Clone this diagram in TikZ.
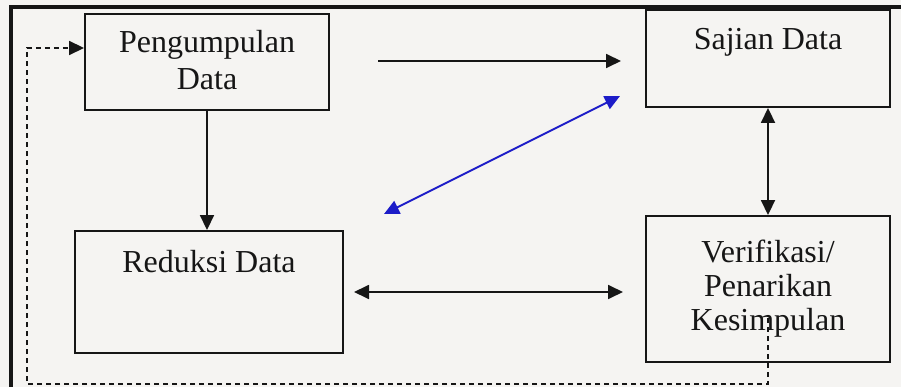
\documentclass[tikz,border=0pt]{standalone}
\usepackage{fontspec}
\setmainfont{Liberation Serif}
\usetikzlibrary{arrows.meta}
\definecolor{paper}{HTML}{F5F4F2}
\definecolor{ink}{HTML}{161616}
\definecolor{linkblue}{HTML}{1C1CC8}
\tikzset{
  box/.style={draw=ink, line width=1.9pt, rectangle, inner sep=0pt},
  lbl/.style={anchor=base, inner sep=0pt, font=\fontsize{32}{37}\selectfont, text=ink},
  tip/.style={-{Triangle[length=15pt,width=14pt]}},
  twotip/.style={{Triangle[length=15pt,width=14pt]}-{Triangle[length=15pt,width=14pt]}},
  conn/.style={draw=ink, line width=1.8pt},
  loop/.style={draw=ink, line width=2.4pt, dash pattern=on 5pt off 4pt},
}
\begin{document}
\begin{tikzpicture}[x=1pt,y=-1pt]
  \fill[paper] (0,0) rectangle (901,387);
  \useasboundingbox (0,0) rectangle (901,387);

  % outer frame (top and left edges)
  \draw[ink, line width=3.5pt] (11,400) -- (11,7) -- (905,7);

  % process boxes
  \node[box, minimum width=244pt, minimum height=96pt]  (pd) at (207,62)   {};
  \node[box, minimum width=244pt, minimum height=97pt]  (sd) at (768,58.5) {};
  \node[box, minimum width=268pt, minimum height=122pt] (rd) at (209,292)  {};
  \node[box, minimum width=244pt, minimum height=146pt] (vk) at (768,289)  {};

  % box labels
  \node[lbl] (pd1) at (207,53)  {Pengumpulan};
  \node[lbl] (pd2) at (207,90)  {Data};
  \node[lbl] (sd1) at (768,50)  {Sajian Data};
  \node[lbl] (rd1) at (209,272) {Reduksi Data};
  \node[lbl] (vk1) at (768,262) {Verifikasi/};
  \node[lbl] (vk2) at (768,296) {Penarikan};
  \node[lbl] (vk3) at (768,330) {Kesimpulan};

  % free ends of the floating arrows
  \coordinate (topA) at (378,61);
  \coordinate (topB) at (621,61);
  \coordinate (blueA) at (384,214);
  \coordinate (blueB) at (620,96);
  \coordinate (midA) at (354,292);
  \coordinate (midB) at (623,292);
  \coordinate (loopS) at (768,318);
  \coordinate (loopC) at (768,384);
  \coordinate (loopD) at (27,384);
  \coordinate (loopE) at (27,48);

  % connectors
  \draw[conn, tip] (pd.south) -- (pd.south |- rd.north);
  \draw[conn, tip] (topA) -- (topB);
  \draw[draw=linkblue, fill=linkblue, line width=1.8pt, twotip] (blueA) -- (blueB);
  \draw[conn, twotip] (sd.south) -- (vk.north);
  \draw[conn, twotip] (midA) -- (midB);

  % feedback loop back to data collection
  \draw[loop] (loopS) -- (loopC) -- (loopD) -- (loopE) -- ([xshift=-14pt]loopE -| pd.west);
  \draw[conn, tip] ([xshift=-14pt]loopE -| pd.west) -- (loopE -| pd.west);
\end{tikzpicture}
\end{document}
